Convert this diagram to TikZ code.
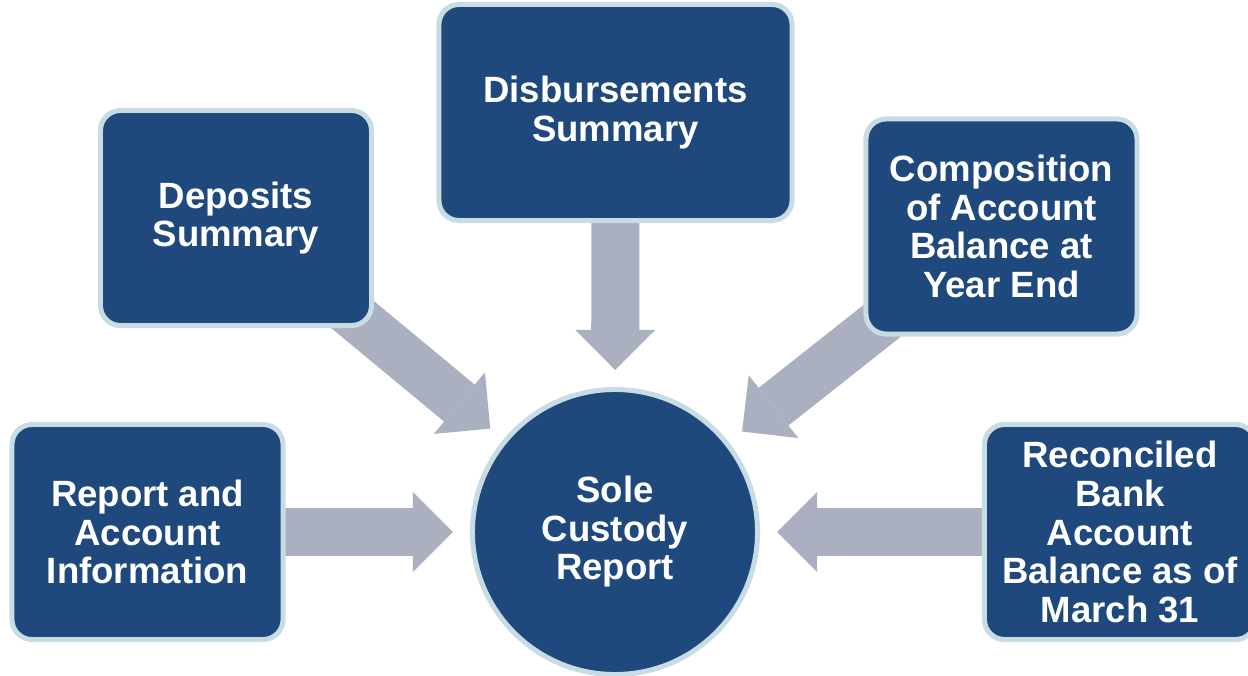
\documentclass[tikz,border=0pt]{standalone}
\usepackage{fontspec}
\setmainfont{Liberation Sans}
\usetikzlibrary{arrows.meta}
\usetikzlibrary{backgrounds}
\definecolor{boxblue}{HTML}{1F497D}
\definecolor{rimblue}{HTML}{C8DCE4}
\definecolor{flowgray}{HTML}{AAB0BF}
\tikzset{tile/.style = {draw = rimblue, fill = boxblue, line width = 0.125cm,
                        text = white, align = center, inner sep = 0,
                        font = \fontsize{26}{27.4}\selectfont\bfseries}}
\tikzset{box/.style = {tile, rounded corners = 0.5cm,
                       minimum width = 6.775cm, minimum height = 5.375cm}}
\tikzset{hub/.style = {tile, circle, minimum size = 7.125cm}}
\tikzset{flow/.style = {draw = flowgray, line width = 1.2cm, shorten >= 0.425cm,
                        -{Triangle[length = 1cm, width = 2cm, line width = 0pt]}}}
\begin{document}
\begin{tikzpicture}[x = 0.025cm, y = -0.025cm]
    \useasboundingbox (0, 0) rectangle (1248, 676);
    \node [hub] (sole) at (615, 532) {Sole\\Custody\\Report};
    \node [box] (rep) at (147.5, 532) {Report and\\Account\\Information};
    \node [box] (dep) at (236, 218) {Deposits\\Summary};
    \node [box, minimum width = 8.825cm, minimum height = 5.4cm] (disb) at (615.5, 112.5) {Disbursements\\Summary};
    \node [box] (comp) at (1001.5, 226.5) {Composition\\of Account\\Balance at\\Year End};
    \node [box] (rec) at (1120, 532) {Reconciled\\Bank\\Account\\Balance as of\\March 31};
    \begin{scope}[on background layer]
      \foreach \src in {rep, dep, disb, comp, rec}
        \draw [flow] (\src.center) -- (sole);
    \end{scope}
  \end{tikzpicture}
\end{document}
